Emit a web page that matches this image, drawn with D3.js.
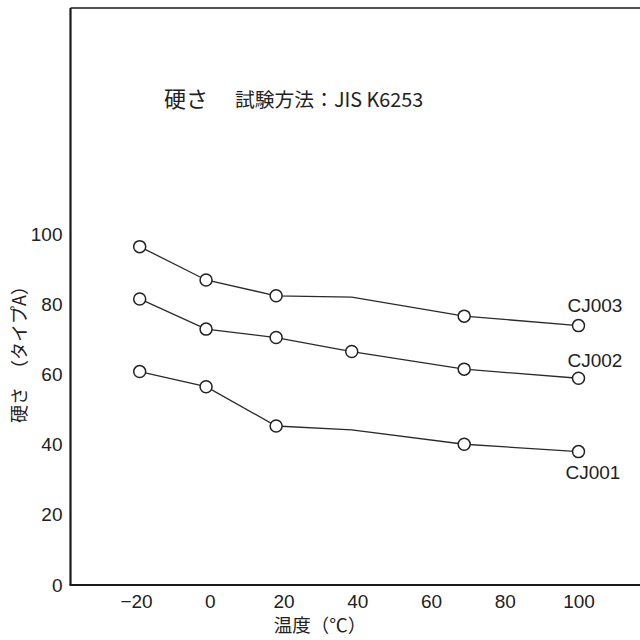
<!DOCTYPE html>
<html>
<head>
<meta charset="utf-8">
<script src="https://cdn.jsdelivr.net/npm/d3@7"></script>
<style>
  html, body { margin: 0; padding: 0; background: #fff; }
  svg { display: block; }
  text { fill: #222; }
</style>
</head>
<body>
<svg id="chart" width="640" height="640"></svg>
<script>
// ---- data ----
const temperatures = [-19, -1, 18, 38.5, 69, 100];
const seriesNames = ["CJ001", "CJ002", "CJ003"];
const cj001 = [60.8, 56.5, 45.3, 44.2, 40.1, 38.0];
const cj002 = [81.5, 72.9, 70.5, 66.5, 61.5, 58.9];
const cj003 = [96.4, 86.9, 82.4, 82.0, 76.6, 73.9];
const cj001Marked = [true, true, true, false, true, true];
const cj002Marked = [true, true, true, true, true, true];
const cj003Marked = [true, true, true, false, true, true];
const xTicks = [-20, 0, 20, 40, 60, 80, 100];
const yTicks = [0, 20, 40, 60, 80, 100];
const titleMain = "硬さ";
const titleSub = "試験方法：JIS K6253";
const xTitle = "温度（℃）";
const yTitle = "硬さ　（タイプA）";

const series = [
  { name: seriesNames[0], values: cj001, marked: cj001Marked, dx: -13, dy: 27 },
  { name: seriesNames[1], values: cj002, marked: cj002Marked, dx: -11, dy: -11 },
  { name: seriesNames[2], values: cj003, marked: cj003Marked, dx: -11, dy: -14 }
];

// ---- layout ----
const svg = d3.select("#chart");
const latin = "'Liberation Sans', Arial, Helvetica, sans-serif";
const cjk = "'Noto Sans CJK JP', 'Liberation Sans', sans-serif";
const frameLeft = 70.5, frameTop = 8, frameBottom = 585, frameRight = 640;

const x = d3.scaleLinear().domain([-20, 100]).range([136, 578.5]);
const y = d3.scaleLinear().domain([0, 100]).range([585, 234]);

// frame
const frame = svg.append("g").attr("fill", "none").attr("stroke", "#1a1a1a");
frame.append("line").attr("x1", frameLeft).attr("x2", frameRight)
  .attr("y1", frameTop).attr("y2", frameTop).attr("stroke-width", 1.6);
frame.append("line").attr("x1", frameLeft).attr("x2", frameLeft)
  .attr("y1", frameTop).attr("y2", frameBottom).attr("stroke-width", 2.2);
frame.append("line").attr("x1", frameLeft - 1).attr("x2", frameRight)
  .attr("y1", frameBottom).attr("y2", frameBottom).attr("stroke-width", 2.2);

// axes (labels only)
const yAxis = d3.axisLeft(y).tickValues(yTicks).tickSize(0).tickPadding(8);
const gy = svg.append("g").attr("transform", `translate(${frameLeft},0)`).call(yAxis);
gy.select(".domain").remove();
gy.selectAll("text").attr("font-family", latin).attr("font-size", 19).attr("fill", "#222");

const xAxis = d3.axisBottom(x).tickValues(xTicks).tickSize(0).tickPadding(10)
  .tickFormat(d => d < 0 ? "\u2212" + Math.abs(d) : String(d));
const gx = svg.append("g").attr("transform", `translate(0,${frameBottom})`).call(xAxis);
gx.select(".domain").remove();
gx.selectAll("text").attr("font-family", latin).attr("font-size", 19).attr("fill", "#222");

// lines
const line = d3.line().x((d, i) => x(temperatures[i])).y(d => y(d));
const gs = svg.append("g");
series.forEach(s => {
  gs.append("path").attr("d", line(s.values))
    .attr("fill", "none").attr("stroke", "#2a2a2a").attr("stroke-width", 1.3);
  gs.selectAll(null)
    .data(s.values.map((v, i) => ({ t: temperatures[i], v, m: s.marked[i] })).filter(d => d.m))
    .enter().append("circle")
    .attr("cx", d => x(d.t)).attr("cy", d => y(d.v)).attr("r", 6)
    .attr("fill", "#fff").attr("stroke", "#222").attr("stroke-width", 1.5);
  const last = s.values.length - 1;
  gs.append("text")
    .attr("x", x(temperatures[last]) + s.dx)
    .attr("y", y(s.values[last]) + s.dy)
    .attr("font-family", latin).attr("font-size", 19)
    .text(s.name);
});

// titles
svg.append("text").attr("x", 164).attr("y", 107)
  .attr("font-family", cjk).attr("font-size", 22).text(titleMain);
svg.append("text").attr("x", 235).attr("y", 107)
  .attr("font-family", cjk).attr("font-size", 19.8).text(titleSub);

svg.append("text")
  .attr("transform", "translate(26,350) rotate(-90)")
  .attr("text-anchor", "middle")
  .attr("font-family", cjk).attr("font-size", 18).text(yTitle);

svg.append("text").attr("x", 320).attr("y", 632)
  .attr("text-anchor", "middle")
  .attr("font-family", cjk).attr("font-size", 18.5).text(xTitle);
</script>
</body>
</html>
